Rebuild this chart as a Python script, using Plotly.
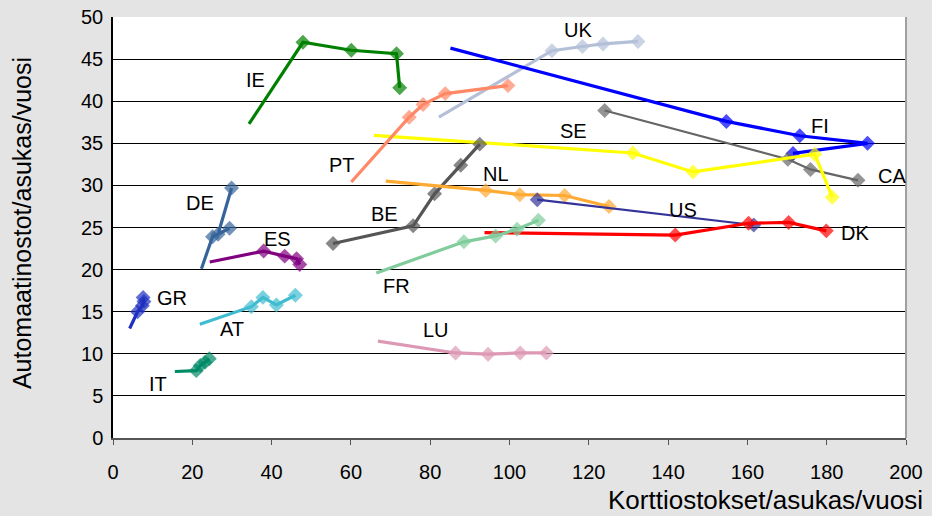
import plotly.graph_objects as go

# Data: (x = card purchases/inhabitant/year, y = ATM withdrawals/inhabitant/year)
IE_x = [34.3, 47.9, 60.1, 71.5, 72.3]
IE_y = [37.3, 47.0, 46.05, 45.65, 41.6]
UK_x = [82.2, 110.7, 118.4, 123.6, 132.4]
UK_y = [38.1, 46.0, 46.5, 46.8, 47.1]
FI_x = [85.1, 154.7, 173.2, 190.3, 171.5]
FI_y = [46.3, 37.6, 35.9, 35.0, 33.8]
CA_x = [124.0, 170.2, 175.9, 187.9]
CA_y = [38.9, 33.1, 31.9, 30.6]
SE_x = [65.8, 131.1, 146.3, 177.0, 181.4]
SE_y = [35.95, 33.85, 31.6, 33.7, 28.6]
PT_x = [60.1, 74.7, 78.2, 83.8, 99.6]
PT_y = [30.4, 38.1, 39.6, 40.9, 41.85]
BE_x = [55.5, 75.7, 81.1, 87.7, 92.5]
BE_y = [23.1, 25.2, 29.0, 32.4, 34.9]
NL_x = [68.8, 94.0, 102.6, 113.9, 125.1]
NL_y = [30.5, 29.4, 28.9, 28.8, 27.5]
US_x = [107.0, 161.6]
US_y = [28.3, 25.3]
DK_x = [93.7, 141.8, 160.3, 170.4, 179.9]
DK_y = [24.4, 24.1, 25.5, 25.6, 24.6]
FR_x = [66.4, 88.5, 96.5, 101.9, 107.3]
FR_y = [19.6, 23.3, 24.0, 24.8, 25.85]
LU_x = [66.8, 86.4, 94.6, 102.7, 109.3]
LU_y = [11.5, 10.1, 9.95, 10.1, 10.1]
DE_x = [22.3, 25.1, 29.4, 26.5, 29.9]
DE_y = [20.1, 23.9, 24.9, 24.2, 29.7]
ES_x = [24.4, 38.0, 43.3, 46.3, 47.1]
ES_y = [20.9, 22.2, 21.6, 21.3, 20.6]
GR_x = [4.2, 6.2, 7.4, 7.8, 7.6]
GR_y = [13.0, 15.0, 15.7, 16.2, 16.7]
AT_x = [21.9, 34.9, 37.8, 41.2, 46.0]
AT_y = [13.5, 15.6, 16.7, 15.8, 16.95]
IT_x = [15.6, 21.0, 22.0, 23.2, 24.3]
IT_y = [7.9, 8.0, 8.6, 9.0, 9.4]

countries = ["IE", "UK", "FI", "CA", "SE", "PT", "BE", "NL", "US", "DK",
             "FR", "LU", "DE", "ES", "GR", "AT", "IT"]
series = {
    "IE": (IE_x, IE_y), "UK": (UK_x, UK_y), "FI": (FI_x, FI_y), "CA": (CA_x, CA_y),
    "SE": (SE_x, SE_y), "PT": (PT_x, PT_y), "BE": (BE_x, BE_y), "NL": (NL_x, NL_y),
    "US": (US_x, US_y), "DK": (DK_x, DK_y), "FR": (FR_x, FR_y), "LU": (LU_x, LU_y),
    "DE": (DE_x, DE_y), "ES": (ES_x, ES_y), "GR": (GR_x, GR_y), "AT": (AT_x, AT_y),
    "IT": (IT_x, IT_y),
}
colors = {
    "IE": "#008000", "UK": "#b4c0d8", "FI": "#0000ff", "CA": "#666666",
    "SE": "#ffff00", "PT": "#ff8866", "BE": "#555555", "NL": "#ffaa33",
    "US": "#333399", "DK": "#ff0000", "FR": "#80cc9c", "LU": "#dd99b4",
    "DE": "#36649a", "ES": "#800080", "GR": "#2030c0", "AT": "#40bcd0",
    "IT": "#008a66",
}
widths = {"CA": 2.2, "US": 2.2}
first_marker = {"CA", "BE", "US"}

# label positions (data coords)
label_x = [35.9, 117.2, 178.2, 196.4, 116.2, 57.7, 68.5, 96.5, 143.7, 187.1,
           71.6, 81.4, 21.9, 41.5, 14.8, 30.0, 11.3]
label_y = [42.5, 48.4, 37.1, 31.1, 36.5, 32.4, 26.6, 31.3, 27.1, 24.4,
           18.1, 12.8, 27.9, 23.6, 16.6, 13.0, 6.4]

FONT = "Liberation Sans, Arial"

fig = go.Figure()
for c in countries:
    xs, ys = series[c]
    sizes = [11.5] * len(xs)
    if c not in first_marker:
        sizes[0] = 0
    fig.add_trace(go.Scatter(
        x=xs, y=ys, mode="lines+markers", name=c,
        line=dict(color=colors[c], width=widths.get(c, 3.2)),
        marker=dict(symbol="diamond", size=sizes, color=colors[c], line=dict(width=0)),
        showlegend=False, hoverinfo="skip",
    ))

for c, lx, ly in zip(countries, label_x, label_y):
    fig.add_annotation(x=lx, y=ly, text=c, showarrow=False,
                       font=dict(size=20, color="black", family=FONT))

fig.add_annotation(xref="paper", yref="paper", x=1.024, y=-0.148, xanchor="right", yanchor="middle",
                   text="Korttiostokset/asukas/vuosi", showarrow=False,
                   font=dict(size=26, color="black", family=FONT))
fig.add_annotation(xref="paper", yref="paper", x=-0.115, y=0.51, xanchor="center", yanchor="middle",
                   text="Automaatinostot/asukas/vuosi", showarrow=False, textangle=-90,
                   font=dict(size=25, color="black", family=FONT))

# right border of plot area
fig.add_shape(type="line", xref="paper", yref="paper", x0=1, x1=1, y0=0, y1=1,
              line=dict(color="#a0a0a0", width=2))

fig.update_layout(
    width=932, height=516,
    margin=dict(l=113, r=26, t=17, b=78),
    paper_bgcolor="#e4e4e4", plot_bgcolor="white",
    font=dict(family=FONT, size=20, color="black"),
    xaxis=dict(range=[0, 200], tickvals=list(range(0, 201, 20)), showgrid=False, zeroline=False,
               showline=True, linecolor="#555555", linewidth=1.5, ticks="outside", ticklen=5,
               tickcolor="#555555", tickfont=dict(size=20), ticklabelstandoff=10, automargin=False),
    yaxis=dict(range=[0, 50], tickvals=list(range(0, 51, 5)), showgrid=True, gridcolor="black",
               gridwidth=1, zeroline=False, showline=True, linecolor="black", linewidth=1.5,
               ticks="", tickfont=dict(size=20), ticklabelstandoff=4, automargin=False),
)

fig.write_html(
    "out.html",
    config={"displayModeBar": False},
    post_script="document.body.style.margin='0';document.body.style.padding='0';"
                "document.body.style.overflow='hidden';document.body.style.background='#e4e4e4';",
)
